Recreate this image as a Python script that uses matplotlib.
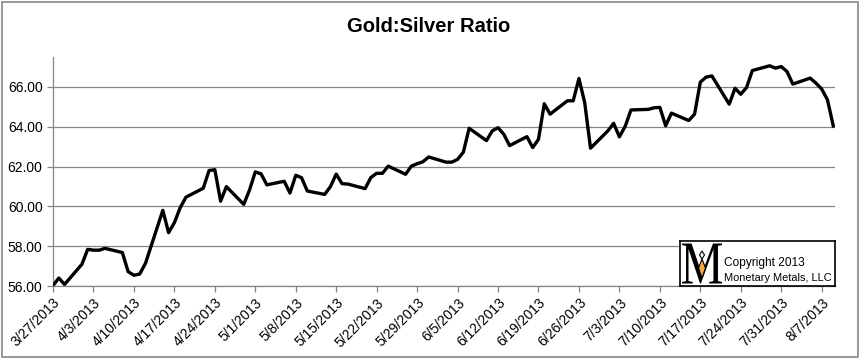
import datetime as dt
import matplotlib
matplotlib.use("Agg")
import matplotlib.pyplot as plt
from matplotlib.patches import Rectangle, Polygon, PathPatch
from matplotlib.textpath import TextPath
from matplotlib.font_manager import FontProperties
from matplotlib.transforms import Affine2D

# Gold:Silver ratio, daily (weekdays), 2013
day_labels = [
    "3/27", "3/28", "3/29", "4/1", "4/2", "4/3", "4/4", "4/5",
    "4/8", "4/9", "4/10", "4/11", "4/12", "4/15", "4/16", "4/17", "4/18", "4/19",
    "4/22", "4/23", "4/24", "4/25", "4/26", "4/29", "4/30", "5/1", "5/2", "5/3",
    "5/6", "5/7", "5/8", "5/9", "5/10", "5/13", "5/14", "5/15", "5/16", "5/17",
    "5/20", "5/21", "5/22", "5/23", "5/24", "5/27", "5/28", "5/29", "5/30", "5/31",
    "6/3", "6/4", "6/5", "6/6", "6/7", "6/10", "6/11", "6/12", "6/13", "6/14",
    "6/17", "6/18", "6/19", "6/20", "6/21", "6/24", "6/25", "6/26", "6/27", "6/28",
    "7/1", "7/2", "7/3", "7/4", "7/5", "7/8", "7/9", "7/10", "7/11", "7/12",
    "7/15", "7/16", "7/17", "7/18", "7/19", "7/22", "7/23", "7/24", "7/25", "7/26",
    "7/29", "7/30", "7/31", "8/1", "8/2", "8/5", "8/6", "8/7", "8/8", "8/9",
]
ratio = [
    56.02, 56.40, 56.08, 57.09, 57.84, 57.80, 57.80, 57.89,
    57.68, 56.72, 56.54, 56.60, 57.14, 59.80, 58.68, 59.18, 59.93, 60.46,
    60.91, 61.80, 61.84, 60.26, 60.99, 60.10, 60.82, 61.73, 61.63, 61.08,
    61.26, 60.67, 61.56, 61.44, 60.77, 60.60, 60.99, 61.62, 61.14, 61.12,
    60.89, 61.45, 61.66, 61.66, 62.02, 61.61, 62.02, 62.14, 62.24, 62.48,
    62.22, 62.22, 62.36, 62.72, 63.92, 63.30, 63.79, 63.95, 63.62, 63.05,
    63.50, 62.95, 63.37, 65.15, 64.63, 65.30, 65.30, 66.42, 65.20, 62.92,
    63.79, 64.17, 63.49, 64.02, 64.84, 64.87, 64.95, 64.97, 64.05, 64.68,
    64.31, 64.63, 66.24, 66.49, 66.55, 65.13, 65.93, 65.63, 65.97, 66.82,
    67.06, 66.94, 67.02, 66.77, 66.14, 66.44, 66.19, 65.89, 65.35, 64.04,
]
y_ticks = [56, 58, 60, 62, 64, 66]

dates = [dt.datetime.strptime(s + "/2013", "%m/%d/%Y") for s in day_labels]
week_ticks = [dates[0] + dt.timedelta(days=7 * i) for i in range(20)]

plt.rcParams["font.family"] = ["Liberation Sans", "DejaVu Sans"]

fig = plt.figure(figsize=(8.61, 3.58), dpi=100)
fig.patches.append(Rectangle((0.002, 0.004), 0.994, 0.99, transform=fig.transFigure,
                             fill=False, edgecolor="#868686", linewidth=1.2))

ax = fig.add_axes([53 / 861, 1 - 286 / 358, 782 / 861, 229 / 358])
ax.plot(dates, ratio, color="black", linewidth=2.4, solid_joinstyle="round", zorder=3)

ax.set_ylim(56, 67.5)
ax.set_yticks(y_ticks)
ax.yaxis.set_major_formatter(matplotlib.ticker.FormatStrFormatter("%.2f"))
ax.set_xlim(dates[0], dates[-1] + dt.timedelta(days=0.3))
ax.set_xticks(week_ticks)
ax.set_xticklabels([f"{d.month}/{d.day}/{d.year}" for d in week_ticks],
                   rotation=45, ha="right", va="top", rotation_mode="anchor")

ax.grid(axis="y", color="#868686", linewidth=0.9)
ax.set_axisbelow(True)
for side in ("top", "right"):
    ax.spines[side].set_visible(False)
for side in ("left", "bottom"):
    ax.spines[side].set_color("#868686")
    ax.spines[side].set_linewidth(0.9)
ax.tick_params(axis="both", colors="#868686", labelcolor="black", labelsize=10,
               length=4, width=0.9)
ax.tick_params(axis="x", pad=3)

fig.text(429 / 861, 1 - 27 / 358, "Gold:Silver Ratio", ha="center", va="center",
         fontsize=14.5, fontweight="bold")

# copyright badge
logo = fig.add_axes([680 / 861, 1 - 286 / 358, 155 / 861, 45 / 358])
logo.set_xlim(0, 155)
logo.set_ylim(0, 45)
logo.set_xticks([])
logo.set_yticks([])
for sp in logo.spines.values():
    sp.set_color("black")
    sp.set_linewidth(1.2)

mpath = TextPath((0, 0), "M", size=10, prop=FontProperties(family="Liberation Serif"))
bb = mpath.get_extents()
mpath = mpath.transformed(Affine2D().translate(-bb.x0, -bb.y0)
                          .scale(40 / bb.width, 40 / bb.height).translate(2, 2.5))
logo.add_patch(PathPatch(mpath, facecolor="black", edgecolor="none"))
logo.add_patch(Polygon([(22, 35), (24.5, 31), (22, 27), (19.5, 31)], closed=True,
                       facecolor="white", edgecolor="black", linewidth=0.8))
logo.add_patch(Polygon([(22, 27), (25.5, 18), (22, 8), (18.5, 18)], closed=True,
                       facecolor="#f5a742", edgecolor="black", linewidth=0.8))

logo.text(44, 20, "Copyright 2013", fontsize=8.6, va="baseline")
logo.text(44, 5, "Monetary Metals, LLC", fontsize=7.9, va="baseline")

fig.savefig("out.png", dpi=100)
